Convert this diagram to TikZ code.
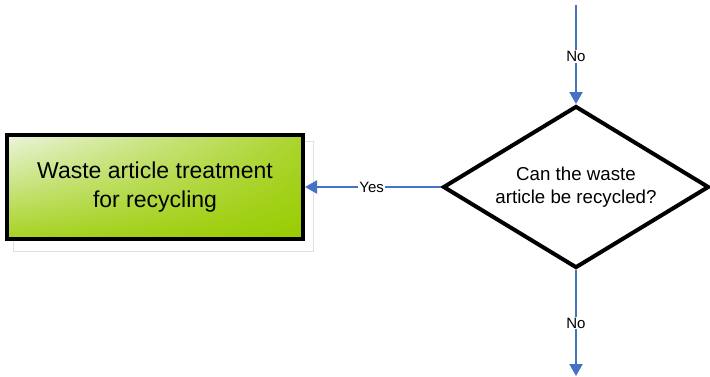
\documentclass[tikz,border=0pt]{standalone}
\usepackage{fontspec}
\setmainfont{Liberation Sans}
\usetikzlibrary{shapes.geometric,arrows.meta,shadings}
\definecolor{flowblue}{RGB}{68,114,196}
\definecolor{leafgreen}{RGB}{153,204,0}
\definecolor{paleleaf}{RGB}{236,245,222}
\tikzset{
  flow/.style={draw=flowblue,line width=2pt,-{Triangle[width=13pt,length=12pt]}},
  flowlabel/.style={fill=white,inner sep=1pt,font=\fontsize{15}{17}\selectfont,text=black},
  taskbox/.style={draw=black,line width=4pt,minimum width=296pt,minimum height=104pt,
    inner sep=0pt,align=center,font=\fontsize{23}{29}\selectfont,shade,
    upper left=paleleaf,upper right=leafgreen!80!paleleaf,lower left=leafgreen!85!paleleaf,lower right=leafgreen},
  decision/.style={diamond,draw=black,line width=4pt,minimum width=266pt,minimum height=162pt,
    aspect=1.64,inner sep=0pt,align=center,font=\fontsize{18.7}{23}\selectfont}
}
\begin{document}
\begin{tikzpicture}[x=1pt,y=-1pt]
\useasboundingbox (0,0) rectangle (710,376);
% faint outline behind the task box
\draw[black!12,line width=0.6pt] (13,141) rectangle (313,251);
\node[taskbox] (task) at (155,187) {Waste article treatment\\for recycling};
\node[decision] (check) at (576,187) {Can the waste\\article be recycled?};
\coordinate (topin) at (576,5);
\coordinate (botout) at (576,376);
\draw[flow] (topin) -- node[flowlabel,pos=0.52] {No} (check.north);
\draw[flow] (check.south) -- node[flowlabel,pos=0.5] {No} (botout);
\draw[flow] (check.west) -- node[flowlabel,pos=0.51] {Yes} (task.east);
\end{tikzpicture}
\end{document}
